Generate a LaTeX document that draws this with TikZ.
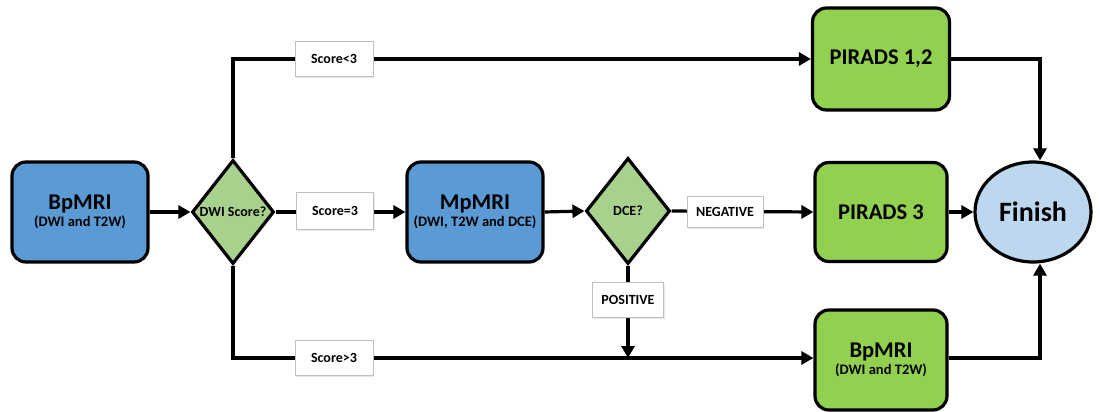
\documentclass[tikz,border=0pt]{standalone}
\usepackage{fontspec}
\setmainfont{Carlito}
\usetikzlibrary{shapes.geometric,arrows.meta,shadows}
\definecolor{boxblue}{HTML}{5B9BD5}
\definecolor{boxgreen}{HTML}{92D050}
\definecolor{diagreen}{HTML}{A9D18E}
\definecolor{endblue}{HTML}{BDD7EE}
\definecolor{tagline}{HTML}{BFBFBF}
\tikzset{
  proc/.style={draw=black, line width=3.2pt, rounded corners=14pt, minimum width=136pt,
    minimum height=100pt, align=center, font=\bfseries, inner sep=0pt},
  decide/.style={diamond, draw=black, line width=3.2pt, fill=diagreen, minimum width=82pt,
    minimum height=104pt, aspect=0.79, inner sep=0pt,
    label={[font=\bfseries\fontsize{14}{16}\selectfont]center:#1}},
  tag/.style={draw=tagline, line width=0.7pt, fill=white, font=\bfseries\fontsize{14}{16}\selectfont,
    minimum height=35pt, inner sep=0pt,
    drop shadow={opacity=0.18, shadow xshift=1pt, shadow yshift=-1.2pt}},
  flow/.style={line width=3.2pt, -{Triangle[length=12pt,width=13pt]}},
}
\newcommand{\ttl}[1]{{\fontsize{22.5}{26}\selectfont #1}}
\newcommand{\sbt}[1]{{\fontsize{14.5}{17}\selectfont #1}}
\begin{document}
\begin{tikzpicture}[x=1pt,y=-1pt]
\useasboundingbox (0,0) rectangle (1100,412);

% process boxes
\node[proc, fill=boxblue] (bp) at (80,212) {\ttl{BpMRI}\\[2pt]\sbt{(DWI and T2W)}};
\node[proc, fill=boxblue] (mp) at (475,212) {\ttl{MpMRI}\\[2pt]\sbt{(DWI, T2W and DCE)}};
\node[proc, fill=boxgreen, minimum width=137pt, minimum height=102pt] (p12) at (881,59) {\ttl{PIRADS 1,2}};
\node[proc, fill=boxgreen, minimum width=132pt, minimum height=99pt] (p3) at (881,212) {\ttl{PIRADS 3}};
\node[proc, fill=boxgreen, minimum width=132pt, minimum height=100pt] (bp2) at (881,360) {\ttl{BpMRI}\\[2pt]\sbt{(DWI and T2W)}};

% decisions
\node[decide={DWI Score?}] (dwi) at (233,212) {};
\node[decide={DCE?}, minimum width=84pt, minimum height=106pt] (dce) at (628,211) {};

% end
\node[ellipse, draw=black, line width=3.2pt, fill=endblue, minimum width=116pt,
  minimum height=100pt, inner sep=0pt, font=\bfseries\fontsize{28}{31}\selectfont] (fin) at (1033,212) {Finish};

% junction points
\coordinate (jtop) at (233,59);
\coordinate (jbot) at (233,358);
\coordinate (jpos) at (628,358);
\coordinate (jr1) at (1040,59);
\coordinate (jr2) at (1040,358);

% connectors
\draw[flow] (bp.east) -- (dwi.west);
\draw[flow] (dwi.east) -- (mp.west);
\draw[flow] (mp.east) -- (dce.west);
\draw[flow] (dce.east) -- (p3.west);
\draw[flow] (dwi.north) -- (jtop) -- (p12.west);
\draw[flow] (dwi.south) -- (jbot) -- (bp2.west |- jbot);
\draw[flow] (dce.south) -- (jpos);
\draw[flow] (p12.east) -- (jr1) -- (fin.north -| jr1);
\draw[flow] (bp2.east |- jr2) -- (jr2) -- (fin.south -| jr2);
\draw[flow] (p3.east) -- (fin.west);

% condition tags
\node[tag, minimum width=78pt] (lt) at (334,59) {Score<3};
\node[tag, minimum width=77pt, minimum height=37pt] (eq) at (335,211) {Score=3};
\node[tag, minimum width=78pt] (gt) at (334,358) {Score>3};
\node[tag, minimum width=76pt, minimum height=31pt] (neg) at (725,212) {NEGATIVE};
\node[tag, minimum width=71pt] (pos) at (628,300) {POSITIVE};
\end{tikzpicture}
\end{document}
